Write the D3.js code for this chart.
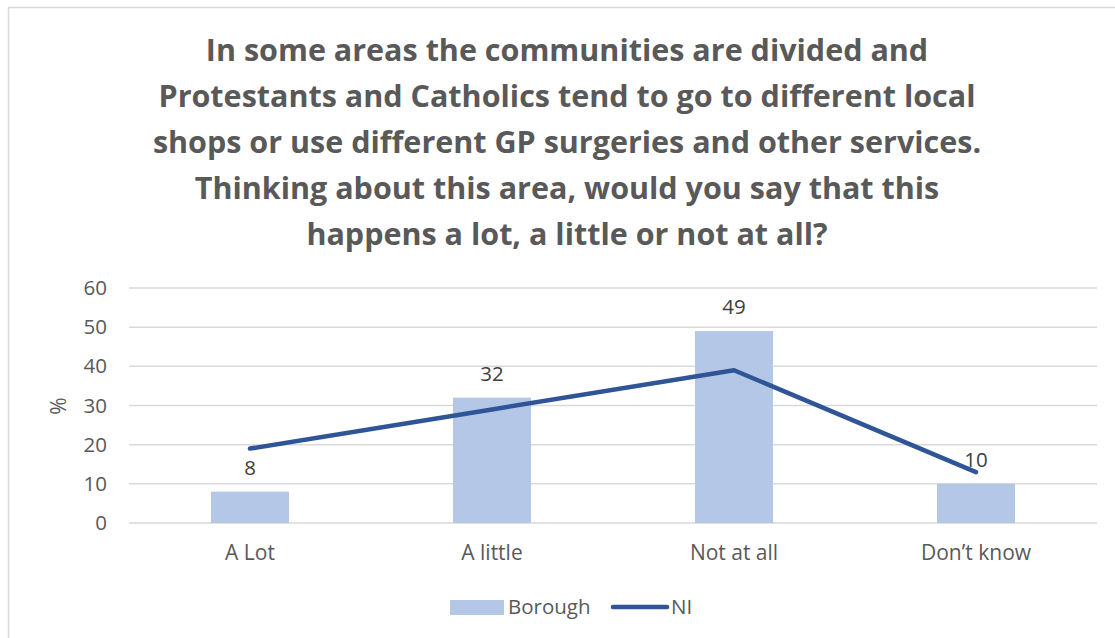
<!DOCTYPE html>
<html><head><meta charset="utf-8">
<script src="https://cdn.jsdelivr.net/npm/d3@7"></script>
<style>body{margin:0;background:#fff;} svg{display:block;}</style>
</head><body>
<svg id="c" width="1115" height="638"></svg>
<script>
const categories = ["A Lot", "A little", "Not at all", "Don\u2019t know"];
const borough = [8, 32, 49, 10];
const ni = [19, 29, 39, 13];
const yTicks = [0, 10, 20, 30, 40, 50, 60];
const titleLines = [
  "In some areas the communities are divided and",
  "Protestants and Catholics tend to go to different local",
  "shops or use different GP surgeries and other services.",
  "Thinking about this area, would you say that this",
  "happens a lot, a little or not at all?"
];
const seriesNames = ["Borough", "NI"];

const svg = d3.select("#c");
const font = "'Open Sans', sans-serif";
const gray = "#595959";

svg.append("rect").attr("x", 8.5).attr("y", 7.5).attr("width", 1120).attr("height", 640)
  .attr("fill", "#fff").attr("stroke", "#d9d9d9").attr("stroke-width", 1.5);

const title = svg.append("text").attr("text-anchor", "middle").attr("fill", gray)
  .attr("font-family", font).attr("font-weight", "bold").attr("font-size", 30.5);
titleLines.forEach((t, i) => {
  title.append("tspan").attr("x", 567).attr("y", 61 + i * 46).text(t);
});

const x = d3.scaleBand().domain(categories).range([129, 1097]).paddingInner(0).paddingOuter(0);
const y = d3.scaleLinear().domain([0, 60]).range([523, 288]);
const barW = 78;

svg.append("g").selectAll("line").data(yTicks).join("line")
  .attr("x1", 129).attr("x2", 1097)
  .attr("y1", d => y(d)).attr("y2", d => y(d))
  .attr("stroke", "#d9d9d9").attr("stroke-width", 1.5);

const yAxis = svg.append("g").attr("transform", "translate(129,0)")
  .call(d3.axisLeft(y).tickValues(yTicks).tickSize(0).tickPadding(22));
yAxis.select(".domain").remove();
yAxis.selectAll("text").attr("font-family", font).attr("font-size", 20.5).attr("fill", gray);

const xAxis = svg.append("g").attr("transform", "translate(0,523)")
  .call(d3.axisBottom(x).tickSize(0).tickPadding(22));
xAxis.select(".domain").remove();
xAxis.selectAll("text").attr("font-family", font).attr("font-size", 21).attr("fill", gray);

svg.append("text").attr("transform", "translate(66,406) rotate(-90)")
  .attr("text-anchor", "middle").attr("font-family", font).attr("font-size", 21).attr("fill", gray).text("%");

svg.append("g").selectAll("rect").data(borough).join("rect")
  .attr("x", (d, i) => x(categories[i]) + x.bandwidth() / 2 - barW / 2)
  .attr("width", barW)
  .attr("y", d => y(d)).attr("height", d => y(0) - y(d))
  .attr("fill", "#b4c7e7");

const line = d3.line().x((d, i) => x(categories[i]) + x.bandwidth() / 2).y(d => y(d));
svg.append("path").datum(ni).attr("d", line).attr("fill", "none")
  .attr("stroke", "#2f5597").attr("stroke-width", 4.5).attr("stroke-linecap", "round").attr("stroke-linejoin", "round");

svg.append("g").selectAll("text").data(borough).join("text")
  .attr("x", (d, i) => x(categories[i]) + x.bandwidth() / 2)
  .attr("y", d => y(d) - 17)
  .attr("text-anchor", "middle").attr("font-family", font).attr("font-size", 20.5).attr("fill", "#404040")
  .text(d => d);

// legend
const lg = svg.append("g");
lg.append("rect").attr("x", 450).attr("y", 600).attr("width", 54).attr("height", 15).attr("fill", "#b4c7e7");
lg.append("text").attr("x", 508).attr("y", 614).attr("font-family", font).attr("font-size", 20.5).attr("fill", gray).text(seriesNames[0]);
lg.append("line").attr("x1", 613).attr("x2", 667).attr("y1", 607).attr("y2", 607)
  .attr("stroke", "#2f5597").attr("stroke-width", 4.5).attr("stroke-linecap", "round");
lg.append("text").attr("x", 671).attr("y", 614).attr("font-family", font).attr("font-size", 20.5).attr("fill", gray).text(seriesNames[1]);
</script>
</body></html>
